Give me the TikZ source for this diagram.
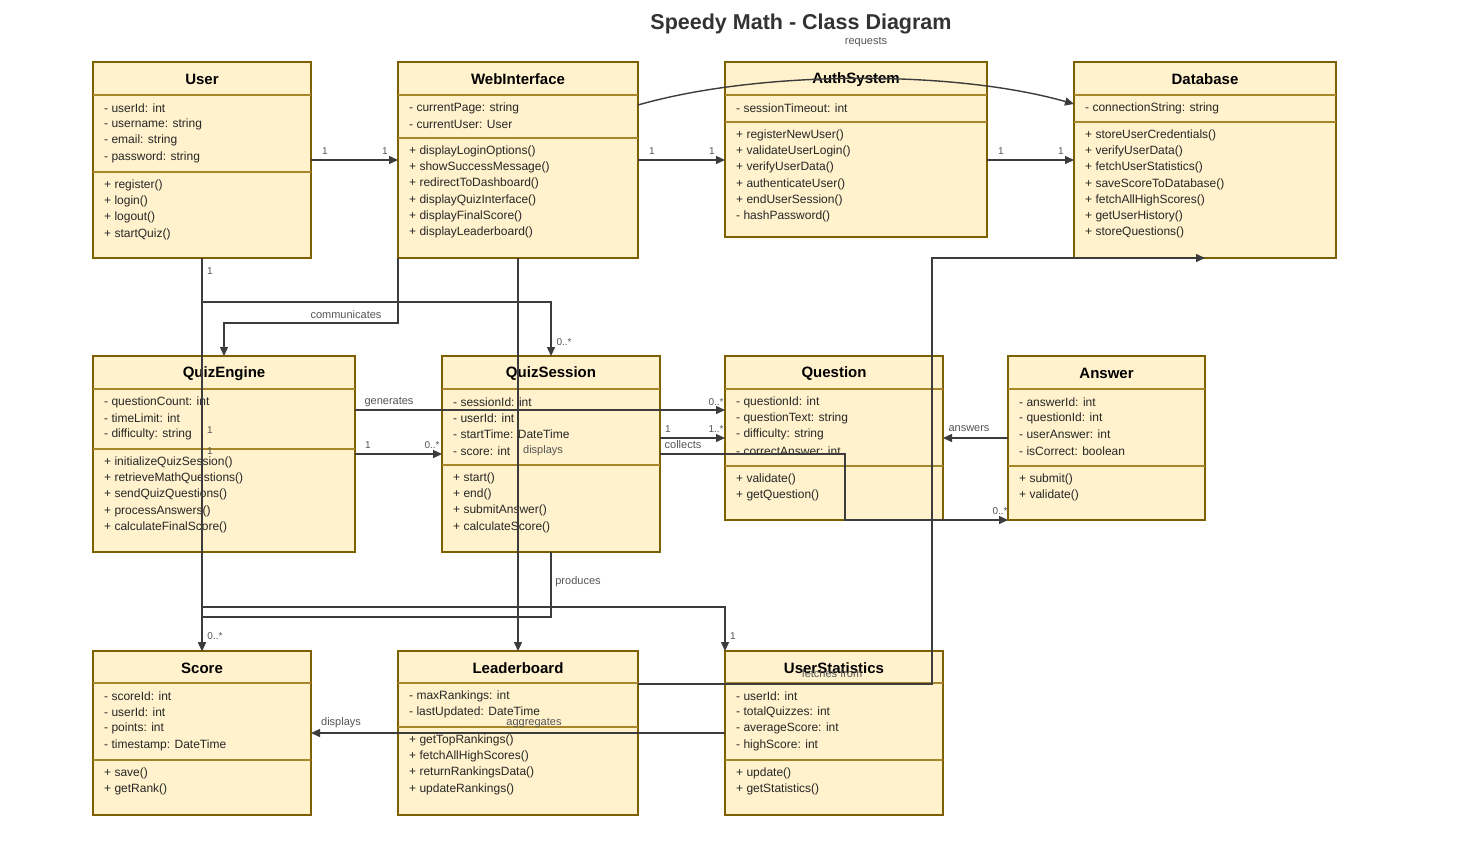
\documentclass[tikz,border=0pt]{standalone}
\usepackage{fontspec}
\setmainfont{Liberation Sans}
\usetikzlibrary{arrows.meta,calc}

\definecolor{classfill}{HTML}{FFF2CC}
\definecolor{classline}{HTML}{7F6000}
\definecolor{sepcol}{HTML}{A8872A}
\definecolor{linecol}{HTML}{3C3C3C}
\definecolor{lblcol}{HTML}{555555}

\tikzset{
  classbox/.style={draw=classline, fill=classfill, line width=2pt, rectangle,
    anchor=north west, inner sep=0pt, outer sep=0pt},
  classtitle/.style={font=\fontsize{15}{17}\selectfont\bfseries, inner sep=0pt},
  member/.style={font=\fontsize{12}{14}\selectfont, text=black!85, anchor=west, inner sep=0pt},
  sepline/.style={draw=sepcol, line width=1.2pt},
  conn/.style={draw=linecol, line width=1.4pt, -{Triangle[length=9pt,width=8pt]}},
  elbl/.style={font=\fontsize{11}{13}\selectfont, text=lblcol, inner sep=0pt},
  mult/.style={font=\fontsize{10}{12}\selectfont, text=lblcol, inner sep=0pt}
}

% name, top left, width, height, title, 1st sep, 2nd sep, attributes, methods
\newcommand{\umlclass}[9]{%
  \node[classbox, minimum width=#3pt, minimum height=#4pt] (#1) at #2 {};
  \node[classtitle] (#1-t) at ($(#1.north)+(0,#6/2+1)$) {#5};
  \draw[sepline] ($(#1.north west)+(0,#6)$) -- ($(#1.north east)+(0,#6)$);
  \draw[sepline] ($(#1.north west)+(0,#7)$) -- ($(#1.north east)+(0,#7)$);
  \foreach \mline [count=\rowi] in {#8}
    \node[member] (#1-a\rowi) at ($(#1.north west)+(11,#6+13+16.3*\rowi-16.3)$) {\mline};
  \foreach \mline [count=\rowi] in {#9}
    \node[member] (#1-m\rowi) at ($(#1.north west)+(11,#7+13+16.3*\rowi-16.3)$) {\mline};
}

\begin{document}
\begin{tikzpicture}[x=1pt, y=-1pt]
\fill[white] (0,0) rectangle (1458,867);
\useasboundingbox (0,0) rectangle (1458,867);

\node[font=\fontsize{21.5}{24}\selectfont\bfseries, text=black!80] (title) at (801,23.5)
  {Speedy Math - Class Diagram};

% top row
\umlclass{user}{(93,62)}{218}{196}{User}{33}{110}
  {- userId: int, - username: string, - email: string, - password: string}
  {+ register(), + login(), + logout(), + startQuiz()}
\umlclass{web}{(398,62)}{240}{196}{WebInterface}{33}{76}
  {- currentPage: string, - currentUser: User}
  {+ displayLoginOptions(), + showSuccessMessage(), + redirectToDashboard(),
   + displayQuizInterface(), + displayFinalScore(), + displayLeaderboard()}
\umlclass{auth}{(725,62)}{262}{175}{AuthSystem}{33}{60}
  {- sessionTimeout: int}
  {+ registerNewUser(), + validateUserLogin(), + verifyUserData(),
   + authenticateUser(), + endUserSession(), - hashPassword()}
\umlclass{db}{(1074,62)}{262}{196}{Database}{33}{60}
  {- connectionString: string}
  {+ storeUserCredentials(), + verifyUserData(), + fetchUserStatistics(),
   + saveScoreToDatabase(), + fetchAllHighScores(), + getUserHistory(), + storeQuestions()}

% middle row
\umlclass{qe}{(93,356)}{262}{196}{QuizEngine}{33}{93}
  {- questionCount: int, - timeLimit: int, - difficulty: string}
  {+ initializeQuizSession(), + retrieveMathQuestions(), + sendQuizQuestions(),
   + processAnswers(), + calculateFinalScore()}
\umlclass{qs}{(442,356)}{218}{196}{QuizSession}{33}{109}
  {- sessionId: int, - userId: int, - startTime: DateTime, - score: int}
  {+ start(), + end(), + submitAnswer(), + calculateScore()}
\umlclass{q}{(725,356)}{218}{164}{Question}{33}{110}
  {- questionId: int, - questionText: string, - difficulty: string, - correctAnswer: int}
  {+ validate(), + getQuestion()}
\umlclass{ans}{(1008,356)}{197}{164}{Answer}{33}{110}
  {- answerId: int, - questionId: int, - userAnswer: int, - isCorrect: boolean}
  {+ submit(), + validate()}

% bottom row
\umlclass{score}{(93,651)}{218}{164}{Score}{32}{109}
  {- scoreId: int, - userId: int, - points: int, - timestamp: DateTime}
  {+ save(), + getRank()}
\umlclass{lb}{(398,651)}{240}{164}{Leaderboard}{32}{76}
  {- maxRankings: int, - lastUpdated: DateTime}
  {+ getTopRankings(), + fetchAllHighScores(), + returnRankingsData(), + updateRankings()}
\umlclass{ustats}{(725,651)}{218}{164}{UserStatistics}{32}{109}
  {- userId: int, - totalQuizzes: int, - averageScore: int, - highScore: int}
  {+ update(), + getStatistics()}

% connectors
\draw[conn] (user.east) -- (web.west);
\draw[conn] (web.east) -- (web.east -| auth.west);
\draw[conn] (web.east -| auth.east) -- (web.east -| db.west);
\draw[conn] ($(web.north east)+(0,43)$) .. controls (760,70) and (955,70) .. ($(db.north west)+(0,42)$);
\draw[conn] (user.south) -- ++(0,44) -| (qs.north);
\draw[conn] (user.south) -- (score.north);
\draw[conn] (user.south) |- ([yshift=44pt]ustats.north west) -- (ustats.north west);
\draw[conn] (qs.south) -- ++(0,65) -| (score.north);
\draw[conn] (web.south west) -- ++(0,65) -| (qe.north);
\draw[conn] (web.south) -- (lb.north);
\draw[conn] ([yshift=44pt]qe.east) -- ([yshift=44pt]qe.east -| q.west);
\draw[conn] (qe.east) -- (qs.west);
\draw[conn] (q.west -| qs.east) -- (q.west);
\draw[conn] (qs.east) -- ++(185,0) |- (ans.south west);
\draw[conn] (ans.west) -- (q.east);
\draw[conn] ([yshift=-33pt]lb.north east) -- ++(294,0) |- (db.south);
\draw[conn] (ustats.west) -- (score.east);

% connector labels
\node[elbl] (l-req) at (866,42) {requests};
\node[elbl] (l-com) at (346,315) {communicates};
\node[elbl] (l-gen) at (389,402) {generates};
\node[elbl] (l-col) at (683,445) {collects};
\node[elbl] (l-dis1) at (543,451) {displays};
\node[elbl] (l-ans) at (969,429) {answers};
\node[elbl] (l-pro) at (578,582) {produces};
\node[elbl] (l-fet) at (832,674) {fetches from};
\node[elbl] (l-dis2) at (341,723) {displays};
\node[elbl] (l-agg) at (534,723) {aggregates};

% multiplicities
\node[mult] (m1) at (325,151) {1};
\node[mult] (m2) at (385,151) {1};
\node[mult] (m3) at (652,151) {1};
\node[mult] (m4) at (712,151) {1};
\node[mult] (m5) at (1001,151) {1};
\node[mult] (m6) at (1061,151) {1};
\node[mult] (m7) at (210,271) {1};
\node[mult] (m8) at (564,342) {0..*};
\node[mult] (m9) at (210,430) {1};
\node[mult] (m10) at (210,451) {1};
\node[mult] (m11) at (716,402) {0..*};
\node[mult] (m12) at (668,429) {1};
\node[mult] (m13) at (716,429) {1..*};
\node[mult] (m14) at (368,445) {1};
\node[mult] (m15) at (432,445) {0..*};
\node[mult] (m16) at (1000,511) {0..*};
\node[mult] (m17) at (215,636) {0..*};
\node[mult] (m18) at (733,636) {1};
\end{tikzpicture}
\end{document}
